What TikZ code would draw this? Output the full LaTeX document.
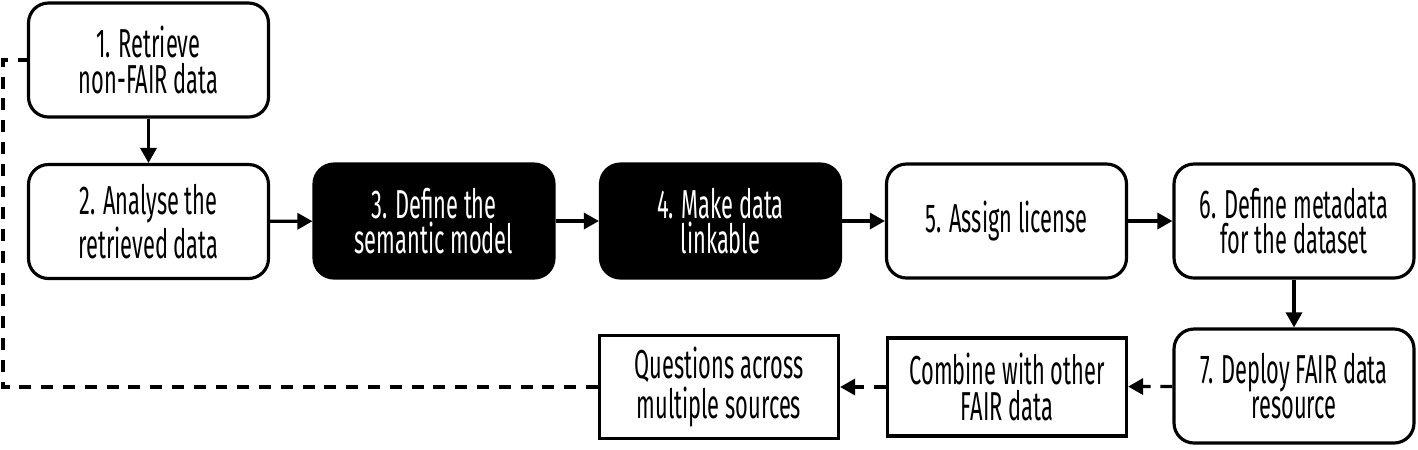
\documentclass[tikz,border=0pt]{standalone}
\usepackage{fontspec}
\setmainfont[FakeStretch=0.54]{Fira Sans}
\usepackage{tikz}
\usetikzlibrary{arrows.meta, positioning}

\begin{document}
\begin{tikzpicture}[
        stepbox/.style={draw, line width=0.9pt, rounded corners=0.2cm, align=center,
            minimum width=2.4cm, minimum height=1.14cm, font=\fontsize{11.5}{10}\selectfont},
        darkbox/.style={stepbox, fill=black, text=white},
        plainbox/.style={stepbox, rounded corners=0pt, minimum width=2.39cm, minimum height=0.98cm},
        flow/.style={line width=0.9pt, -{Triangle[length=4.3pt,width=4.6pt]}},
        reuse/.style={flow, dash pattern=on 3.4pt off 2.8pt}
    ]
        \useasboundingbox (0,0) rectangle (14.18,-4.49);

        \node[stepbox] (retrieve) at (1.485, -0.60) {1. Retrieve\\non-FAIR data};
        \node[stepbox] (analyse) at (1.485, -2.215) {2. Analyse the\\retrieved data};
        \node[darkbox] (semantic) at (4.34, -2.21) {3. Define the\\semantic model};
        \node[darkbox] (linkable) at (7.205, -2.21) {4. Make data\\linkable};
        \node[stepbox] (license) at (10.065, -2.21) {5. Assign license};
        \node[stepbox] (metadata) at (12.94, -2.21) {6. Define metadata\\for the dataset};
        \node[stepbox] (deploy) at (12.94, -3.86) {7. Deploy FAIR data\\resource};
        \node[plainbox] (combine) at (10.07, -3.87) {Combine with other\\FAIR data};
        \node[plainbox] (questions) at (7.19, -3.87) {Questions across\\multiple sources};

        \coordinate (loop) at (0.03, -3.87);

        \draw[flow] (retrieve) -- (analyse);
        \draw[flow] (analyse) -- (semantic);
        \draw[flow] (semantic) -- (linkable);
        \draw[flow] (linkable) -- (license);
        \draw[flow] (license) -- (metadata);
        \draw[flow] (metadata) -- (deploy);
        \draw[reuse] (deploy) -- (combine);
        \draw[reuse] (combine) -- (questions);

        % back to the start
        \draw[line width=0.9pt, dash pattern=on 3.4pt off 2.8pt] (questions.west) -- (loop) |- (retrieve.west);
\end{tikzpicture}
\end{document}
